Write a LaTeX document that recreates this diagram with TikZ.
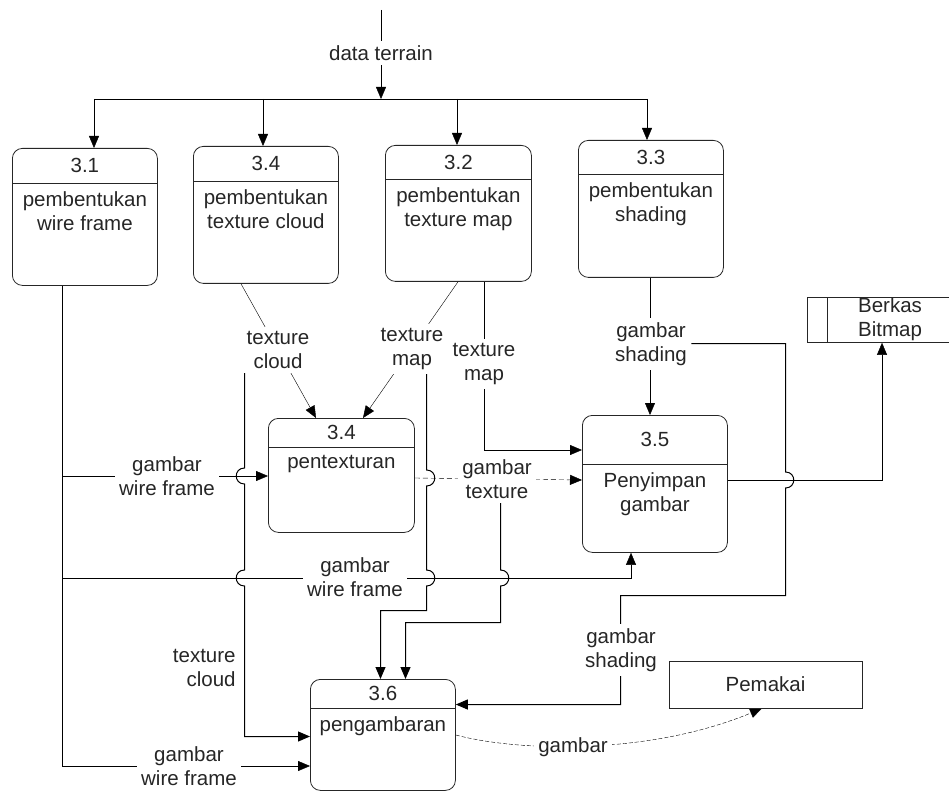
\documentclass[tikz,border=0pt]{standalone}
\usepackage{fontspec}
\setmainfont{Liberation Sans}
\usetikzlibrary{arrows.meta}
\pgfdeclarelayer{bg}
\pgfsetlayers{bg,main}
\tikzset{
  proc/.style={draw, rounded corners=10pt, inner sep=0pt},
  numtxt/.style={inner sep=0pt},
  bodytxt/.style={anchor=north, align=center, inner sep=0pt},
  lbl/.style={fill=white, align=center, inner sep=4pt},
  arr/.style={-{Triangle[length=12pt,width=10pt]}},
  hopline/.style={line width=1pt},
  dsh/.style={dash pattern=on 5pt off 3pt},
  dshb/.style={dash pattern=on 4pt off 2pt},
}
% name, x, ytop, w, h, divider offset, number, body
\newcommand{\procbox}[8]{%
  \node[proc, minimum width=#4pt, minimum height=#5pt, anchor=north west] (#1) at (#2,#3) {};
  \draw ([yshift=-#6pt]#1.north west) -- ([yshift=-#6pt]#1.north east);
  \node[numtxt] at ([yshift=-#6pt/2]#1.north) {#7};
  \node[bodytxt] at ([yshift=-#6pt-8pt]#1.north) {#8};
}
\begin{document}
\begin{tikzpicture}[x=1pt, y=-1pt, line width=0.8pt, color=black!85,
  font=\fontsize{20.5}{24}\selectfont]
\useasboundingbox (0,0) rectangle (949,791);

% processes
\procbox{n31}{12}{148}{145}{137}{35}{3.1}{pembentukan\\wire frame}
\procbox{n34a}{193}{146}{145}{137}{35}{3.4}{pembentukan\\texture cloud}
\procbox{n32}{385}{145}{146}{136}{34}{3.2}{pembentukan\\texture map}
\procbox{n33}{578}{140}{145}{137}{34}{3.3}{pembentukan\\shading}
\procbox{n34}{268}{418}{146}{114}{29}{3.4}{pentexturan}
\procbox{n35}{582}{415}{145}{137}{49}{3.5}{Penyimpan\\gambar}
\procbox{n36}{310}{679}{145}{111}{29}{3.6}{pengambaran}

% external entity and data store
\node[draw, minimum width=193pt, minimum height=47pt, inner sep=0pt] (pem) at (765.5,684.5) {Pemakai};
\node[minimum width=142pt, minimum height=45pt, anchor=north west, inner sep=0pt] (bb) at (807,297) {};
\draw (bb.north east) -- (bb.north west) -- (bb.south west) -- (bb.south east);
\draw ([xshift=20pt]bb.north west) -- ([xshift=20pt]bb.south west);
\node[align=center, inner sep=0pt] (bbt) at (890,319) {Berkas\\Bitmap};

% flow labels
\node[lbl] (dt) at (381,53) {data terrain};
\node[lbl] (gw1) at (167,476) {gambar\\wire frame};
\node[lbl] (gw2) at (355,577) {gambar\\wire frame};
\node[lbl] (gw3) at (189,766) {gambar\\wire frame};
\node[lbl] (tc1) at (278,350) {texture\\cloud};
\node[lbl] (tm1) at (412,349) {texture\\map};
\node[lbl] (tm2) at (484,364) {texture\\map};
\node[lbl] (gt) at (497,479) {gambar\\texture};
\node[lbl] (gs1) at (651,344) {gambar\\shading};
\node[lbl] (gs2) at (621,650) {gambar\\shading};
\node[lbl, align=right, anchor=east] (tc2) at (240,668) {texture\\cloud};
\node[lbl] (gg) at (573,747) {gambar};

\coordinate (top) at (381,10);
\coordinate (bus) at (381,99);

\begin{pgfonlayer}{bg}
% data terrain bus
\draw[arr] (top) -- (bus);
\draw (94,99) -- (648,99);
\draw[arr] (94,99) -- (n31.north -| 94,0);
\draw[arr] (263,99) -- (n34a.north -| 263,0);
\draw[arr] (457,99) -- (n32.north -| 457,0);
\draw[arr] (647,99) -- (n33.north -| 647,0);

% gambar wire frame from 3.1
\draw[arr] (n31.south -| 62,0) -- (62,766) -- (n36.west |- 0,766);
\draw[arr] (62,476) -- (n34.west |- 0,476);
\draw[arr] (62,578) -- (631,578) -- (n35.south -| 631,0);

% texture cloud
\draw[arr] (n34a.south -| 241,0) -- (n34.north -| 316,0);
\draw[arr, hopline] (tc1.west -| 244.5,0) -- (244.5,468) .. controls (233.5,468) and (233.5,484) .. (244.5,484)
  -- (244.5,570) .. controls (233.5,570) and (233.5,586) .. (244.5,586)
  -- (244.5,736.5) -- (n36.west |- 0,736.5);

% texture map
\draw[arr] (n32.south -| 458,0) -- (n34.north -| 363,0);
\draw[arr, hopline] (tm1.south -| 426.5,0) -- (426.5,470) .. controls (437.5,470) and (437.5,486) .. (426.5,486)
  -- (426.5,570) .. controls (437.5,570) and (437.5,586) .. (426.5,586)
  -- (426.5,610.5) -- (380.5,610.5) -- (n36.north -| 380.5,0);
\draw[arr] (n32.south -| 484,0) -- (484,450) -- (n35.west |- 0,450);

% gambar texture
\draw[arr, dsh] (n34.east |- 0,478) -- (n35.west |- 0,480);
\draw[arr, hopline] (gt.south -| 500.5,0) -- (500.5,570) .. controls (511.5,570) and (511.5,586) .. (500.5,586)
  -- (500.5,622.5) -- (405.5,622.5) -- (n36.north -| 405.5,0);

% gambar shading
\draw[arr] (n33.south -| 650,0) -- (n35.north -| 650,0);
\draw[arr, hopline] (gs1.east |- 0,343.5) -- (785.5,343.5) -- (785.5,472) .. controls (796.5,472) and (796.5,488) .. (785.5,488)
  -- (785.5,595.5) -- (620.5,595.5) -- (620.5,704.5) -- (n36.east |- 0,704.5);

% 3.5 to Berkas Bitmap
\draw[arr] (n35.east |- 0,480) -- (882,480) -- (bb.south -| 882,0);

% 3.6 to Pemakai
\draw[arr, dshb] (n36.east |- 0,735) .. controls (520,752) and (650,755) .. (pem.south -| 762,0);
\end{pgfonlayer}
\end{tikzpicture}
\end{document}
